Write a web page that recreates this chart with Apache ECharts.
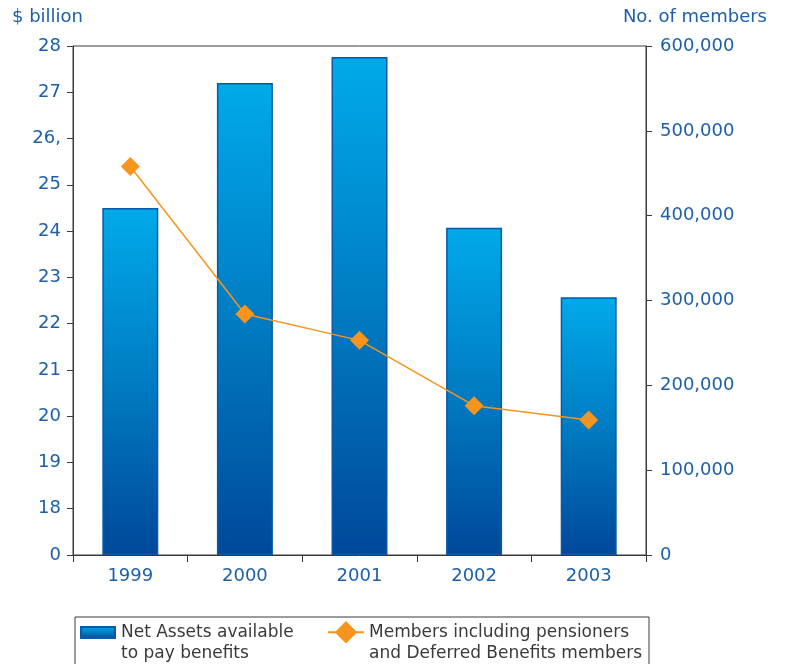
<!DOCTYPE html>
<html>
<head>
<meta charset="utf-8">
<script src="https://cdn.jsdelivr.net/npm/echarts@6/dist/echarts.min.js"></script>
<style>
  html, body { margin: 0; padding: 0; background: #fff; }
  #chart { width: 786px; height: 664px; }
</style>
</head>
<body>
<div id="chart"></div>
<script>
// Fund figures by financial year
const years = ['1999', '2000', '2001', '2002', '2003'];
const netAssets = [24.5, 27.2, 27.76, 24.07, 22.57];          // $ billion
const members = [458000, 284000, 253000, 176000, 159000];      // no. of members

// Left axis runs from a broken base (shown as 0) up to 28
const leftTicks = [17, 18, 19, 20, 21, 22, 23, 24, 25, 26, 27, 28];
const leftTickLabels = ['0', '18', '19', '20', '21', '22', '23', '24', '25', '26,', '27', '28'];
const rightTickLabels = ['0', '100,000', '200,000', '300,000', '400,000', '500,000', '600,000'];

const assetsName = 'Net Assets available\nto pay benefits';
const membersName = 'Members including pensioners\nand Deferred Benefits members';

const textBlue = '#1d5fa8';
const axisDark = '#3a3a3a';
const orange = '#f7941d';
const font = 'DejaVu Sans';
const legendFont = '17px "DejaVu Sans"';

const chart = echarts.init(document.getElementById('chart'));

const barGradient = new echarts.graphic.LinearGradient(0, 0, 0, 1, [
  { offset: 0, color: '#00aaea' },
  { offset: 0.5, color: '#007cc2' },
  { offset: 1, color: '#00489a' }
]);

// Legend shows the first line next to its key; the second line sits underneath
const firstLine = name => name.split('\n')[0];
const secondLine = name => name.split('\n')[1];

chart.setOption({
  animation: false,
  backgroundColor: '#ffffff',
  textStyle: { fontFamily: font },
  grid: {
    left: 73, right: 140, top: 46, bottom: 109,
    show: true, borderColor: axisDark, borderWidth: 1
  },
  graphic: [
    { type: 'text', left: 12, top: 8,
      style: { text: '$ billion', fill: textBlue, font: '18px "DejaVu Sans"' } },
    { type: 'text', right: 19, top: 8,
      style: { text: 'No. of members', fill: textBlue, font: '18px "DejaVu Sans"' } },
    { type: 'rect', left: 72.5, top: 614.5,
      shape: { width: 574, height: 60 },
      style: { fill: 'none', stroke: axisDark, lineWidth: 1 } },
    { type: 'text', left: 121, top: 645,
      style: { text: secondLine(assetsName), fill: '#3a3a3a', font: legendFont } },
    { type: 'text', left: 369, top: 645,
      style: { text: secondLine(membersName), fill: '#3a3a3a', font: legendFont } }
  ],
  legend: [
    {
      data: [assetsName], left: 80, top: 622, padding: 0,
      icon: 'rect',
      itemWidth: 34, itemHeight: 11,
      formatter: firstLine,
      textStyle: { color: '#3a3a3a', fontSize: 17, lineHeight: 21, padding: [0, 0, 0, 1] }
    },
    {
      data: [membersName], left: 327, top: 621, padding: 0,
      itemWidth: 36, itemHeight: 28,
      formatter: firstLine,
      textStyle: { color: '#3a3a3a', fontSize: 17, lineHeight: 21, padding: [0, 0, 0, 0] }
    }
  ],
  xAxis: {
    type: 'category',
    data: years,
    boundaryGap: true,
    axisLine: { lineStyle: { color: axisDark, width: 1 } },
    axisTick: { show: true, length: 7, lineStyle: { color: axisDark } },
    axisLabel: { color: textBlue, fontSize: 18, margin: 12 }
  },
  yAxis: [
    {
      type: 'value',
      min: 17, max: 28, interval: 1,
      startValue: 17,
      position: 'left',
      splitLine: { show: false },
      axisLine: { show: true, lineStyle: { color: axisDark } },
      axisTick: { show: true, length: 6, lineStyle: { color: axisDark } },
      axisLabel: {
        color: textBlue, fontSize: 18, margin: 12,
        formatter: v => leftTickLabels[leftTicks.indexOf(Math.round(v))]
      }
    },
    {
      type: 'value',
      min: 0, max: 600000, interval: 100000,
      position: 'right',
      splitLine: { show: false },
      axisLine: { show: true, lineStyle: { color: axisDark } },
      axisTick: { show: true, length: 6, lineStyle: { color: axisDark } },
      axisLabel: {
        color: textBlue, fontSize: 18, margin: 14,
        formatter: v => rightTickLabels[Math.round(v / 100000)]
      }
    }
  ],
  series: [
    {
      name: assetsName,
      type: 'bar',
      yAxisIndex: 0,
      data: netAssets,
      barWidth: 56,
      itemStyle: { color: barGradient, borderColor: '#0a58a6', borderWidth: 1.5 }
    },
    {
      name: membersName,
      type: 'line',
      yAxisIndex: 1,
      data: members,
      symbol: 'diamond',
      symbolSize: 19,
      lineStyle: { color: orange, width: 1.5 },
      itemStyle: { color: orange }
    }
  ]
});
</script>
</body>
</html>
